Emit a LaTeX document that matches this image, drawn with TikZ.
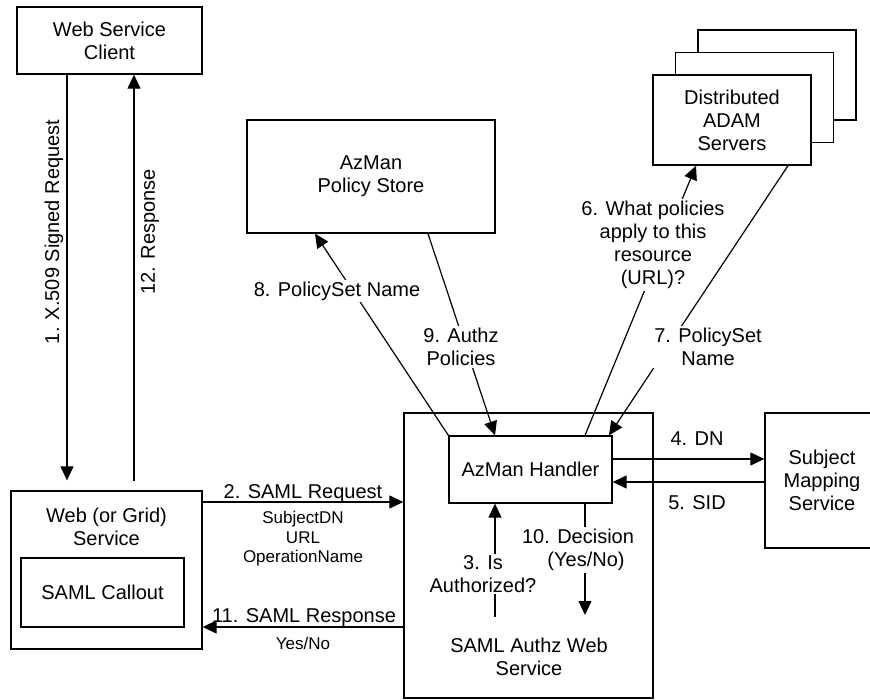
\documentclass[tikz,border=0pt]{standalone}
\usepackage{fontspec}
\setmainfont{Liberation Sans}
\usetikzlibrary{arrows.meta}
\begin{document}
\begin{tikzpicture}[x=1pt,y=-1pt,
  every node/.style={font=\fontsize{20}{23}\selectfont, align=center},
  box/.style={draw, line width=1.3pt, inner sep=0pt},
  conn/.style={line width=1.2pt, -{Triangle[length=14pt,width=13pt]}},
  cover/.style={fill=white, inner sep=2pt},
  small/.style={font=\fontsize{17}{19.5}\selectfont}]
\useasboundingbox (0,0) rectangle (870,700);

% boxes
\node[box, minimum width=185pt, minimum height=67pt] (client) at (109.5,40.5) {Web Service\\Client};
\node[box, minimum width=191pt, minimum height=158pt] (web) at (106.5,570) {};
\node (webtext) at (106.5,527) {Web (or Grid)\\Service};
\node[box, minimum width=163pt, minimum height=69pt] (callout) at (102.5,592.5) {SAML Callout};
\node[box, minimum width=249pt, minimum height=285pt] (authz) at (528.5,555.5) {};
\node (authztext) at (529,657) {SAML Authz Web\\Service};
\node[box, minimum width=163pt, minimum height=67pt] (handler) at (530.5,469.5) {AzMan Handler};
\node[box, minimum width=248pt, minimum height=113pt] (policy) at (371,176.5) {AzMan\\Policy Store};
\node[box, minimum width=114pt, minimum height=135pt] (subject) at (822,480.5) {Subject\\Mapping\\Service};
\node[box, fill=white, minimum width=158pt, minimum height=90pt] (adam3) at (777,75) {};
\node[box, fill=white, minimum width=158pt, minimum height=90pt] (adam2) at (754.5,97.5) {};
\node[box, fill=white, minimum width=158pt, minimum height=90pt] (adam1) at (732,120) {Distributed\\ADAM\\Servers};

% 1 and 12
\coordinate (x1) at (67,0);
\coordinate (x12) at (134,0);
\draw[conn, shorten >=10pt] (client.south -| x1) -- (web.north -| x1);
\draw[conn, shorten <=9pt] (web.north -| x12) -- (client.south -| x12);
\node[rotate=90] (l1) at (54,232) {1. X.509 Signed Request};
\node[rotate=90] (l12) at (150,232) {12. Response};

% 2 and 11
\coordinate (y2) at (0,502);
\draw[conn] (web.east |- y2) -- (authz.west |- y2);
\node[anchor=base] (l2) at (303,498) {2. SAML Request};
\node[small] (l2b) at (303,539) {SubjectDN\\URL\\OperationName};
\coordinate (y11) at (0,627);
\draw[conn] (authz.west |- y11) -- (web.east |- y11);
\node[anchor=base] (l11) at (304,622) {11. SAML Response};
\node[small, anchor=base] (l11b) at (303,649) {Yes/No};

% 4 and 5
\coordinate (y4) at (0,459);
\draw[conn] (handler.east |- y4) -- (subject.west |- y4);
\node[anchor=base] (l4) at (697,445) {4. DN};
\coordinate (y5) at (0,482);
\draw[conn] (subject.west |- y5) -- (handler.east |- y5);
\node[anchor=base] (l5) at (697,509) {5. SID};

% 10 and 3
\coordinate (e10) at (585,615);
\draw[conn] (handler.south -| e10) -- (e10);
\node[cover] (l10) at (578,550) {10. Decision\\\hspace*{16pt}(Yes/No)};
\coordinate (s3) at (495,617);
\draw[conn] (s3) -- (handler.south -| s3);
\node[cover, inner sep=1pt] (l3) at (483,574) {3. Is\\Authorized?};

% 8 and 9
\coordinate (x8) at (315,0);
\draw[conn] (handler.north west) -- (policy.south -| x8);
\node[cover] (l8) at (337,291) {8. PolicySet Name};
\coordinate (x9a) at (428,0);
\coordinate (x9b) at (495,0);
\draw[conn] (policy.south -| x9a) -- (handler.north -| x9b);
\node[cover] (l9) at (461,347) {9. Authz\\Policies};

% 6 and 7
\coordinate (x6a) at (585,0);
\coordinate (x6b) at (696,0);
\draw[conn] (handler.north -| x6a) -- (adam1.south -| x6b);
\node[cover] (l6) at (653,245) {6. What policies\\apply to this\\resource\\(URL)?};
\coordinate (x7a) at (788,0);
\coordinate (x7b) at (609,0);
\draw[conn] (adam1.south -| x7a) -- (handler.north -| x7b);
\node[cover] (l7) at (708,347) {7. PolicySet\\Name};
\end{tikzpicture}
\end{document}
